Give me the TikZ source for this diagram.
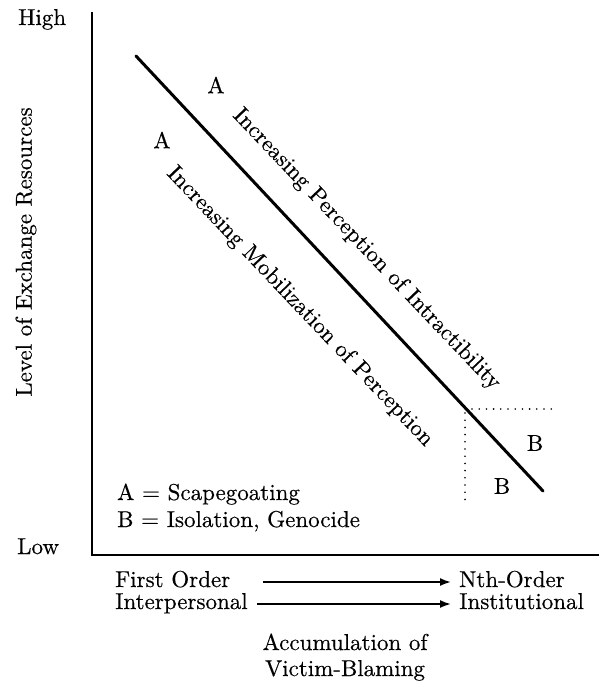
\documentclass[tikz,border=0pt]{standalone}
\usepackage{fontspec}
\setmainfont{lmroman10-regular}[Extension=.otf,FakeBold=0.4]
\usetikzlibrary{arrows.meta}
\begin{document}
\begin{tikzpicture}[x=1pt,y=-1pt,
  lbl/.style={inner sep=0pt,font=\fontsize{23}{27}\selectfont},
  axis/.style={line width=2pt},
  trend/.style={line width=3pt,line cap=round},
  guide/.style={line width=1.8pt,line cap=round,dash pattern=on 0pt off 7.2pt},
  flow/.style={line width=1.8pt,-{Latex[length=11pt,width=8pt]}}]
\useasboundingbox (0,0) rectangle (599,685);
% axes
\coordinate (top) at (92,12);
\coordinate (origin) at (92,555);
\coordinate (right) at (599,555);
\draw[axis] (top) -- (origin) -- (right);
% trend line
\coordinate (ls) at (136,56);
\coordinate (le) at (543,491);
\draw[trend] (ls) -- (le);
% dotted guides
\coordinate (hstart) at (472,409);
\coordinate (hend) at (558,409);
\coordinate (vtop) at (465,413);
\coordinate (vend) at (465,506);
\draw[guide] (hstart) -- (hend);
\draw[guide] (vtop) -- (vend);
% labels
\node[lbl,anchor=base west] (high) at (18,25) {High};
\node[lbl,anchor=base west] (low) at (17,554) {Low};
\node[lbl,rotate=90] (ylab) at (26,252) {Level of Exchange Resources};
\node[lbl] (a1) at (216,85) {A};
\node[lbl] (a2) at (162,140) {A};
\node[lbl] (b1) at (535,443) {B};
\node[lbl] (b2) at (502,486) {B};
\node[lbl,rotate=-46.5,anchor=base west] (intr) at (232,116) {Increasing Perception of Intractibility};
\node[lbl,rotate=-46.5,anchor=base west] (mob) at (166,174) {Increasing Mobilization of Perception};
\node[lbl,anchor=base west] (legA) at (117,500) {A = Scapegoating};
\node[lbl,anchor=base west] (legB) at (117,527) {B = Isolation, Genocide};
% bottom
\node[lbl,anchor=base west] (first) at (115,587) {First Order};
\node[lbl,anchor=base west] (inter) at (115,609) {Interpersonal};
\node[lbl,anchor=base west] (nth) at (459,587) {Nth-Order};
\node[lbl,anchor=base west] (inst) at (459,609) {Institutional};
\coordinate (f1) at (263,582);
\coordinate (f2) at (257,604);
\coordinate (t1) at (451,582);
\coordinate (t2) at (451,604);
\draw[flow] (f1) -- (t1);
\draw[flow] (f2) -- (t2);
\node[lbl,anchor=base] (acc1) at (345,650) {Accumulation of};
\node[lbl,anchor=base] (acc2) at (345,676) {Victim-Blaming};
\end{tikzpicture}
\end{document}
